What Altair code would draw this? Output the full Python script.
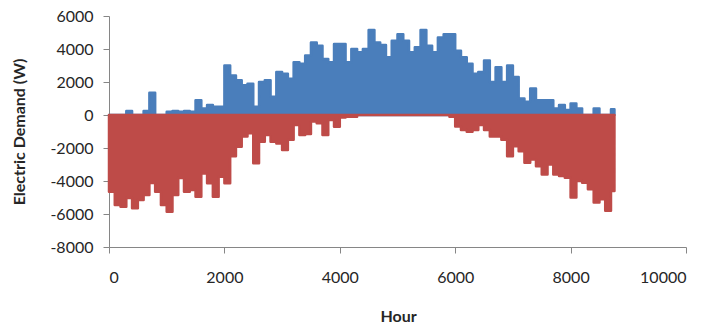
import altair as alt
import pandas as pd

# Hour of the year (sampled every 100 h, last point = 8760)
hours = list(range(0, 8800, 100)) + [8760]

# Upper envelope of the positive (blue) series, W
cooling = [
    0, 0, 0, 250, 0, 0, 250, 1350, 0, 0,
    200, 250, 200, 250, 200, 900, 400, 600, 500, 500,
    3000, 2400, 2100, 1800, 1900, 500, 2000, 2100, 1100, 2600,
    2500, 2200, 3200, 3100, 3600, 4400, 4200, 3400, 3200, 4300,
    4300, 3200, 4000, 3800, 4000, 5150, 4400, 4250, 3500, 4500,
    4900, 4500, 3800, 4100, 5150, 4200, 3800, 4700, 4900, 4900,
    3900, 3500, 3100, 2500, 2600, 3300, 2000, 2900, 2000, 3000,
    2300, 1000, 800, 1600, 900, 900, 900, 400, 600, 300,
    700, 400, 0, 0, 400, 0, 0, 350, 300,
]

# Lower envelope of the negative (red) series, W
heating = [
    -4650, -5450, -5560, -5030, -5650, -5150, -4850, -4120, -4650, -5450,
    -5860, -4850, -3820, -4650, -4550, -4950, -3540, -4140, -4950, -3740,
    -4140, -2500, -1920, -1310, -1110, -2930, -1620, -1210, -1620, -1720,
    -2120, -1500, -600, -1210, -1150, -400, -500, -1210, -300, -710,
    -150, -100, -100, 0, 0, 0, 0, 0, 0, 0,
    0, 0, 0, 0, 0, 0, 0, 0, 0, -100,
    -700, -910, -1010, -910, -610, -910, -1300, -1300, -1500, -2500,
    -1900, -2200, -2900, -2700, -3100, -3600, -3000, -3600, -3700, -3800,
    -5000, -4000, -4100, -4500, -5300, -5100, -5800, -4600, -4500,
]

x_ticks = [0, 2000, 4000, 6000, 8000, 10000]
y_ticks = [-8000, -6000, -4000, -2000, 0, 2000, 4000, 6000]

df = pd.DataFrame({"Hour": hours, "Cooling": cooling, "Heating": heating})

FONT = "Lato"
AX = "#868686"
TXT = "#262626"

x_enc = alt.X(
    "Hour:Q",
    scale=alt.Scale(domain=[0, 10000], nice=False),
    axis=alt.Axis(
        values=x_ticks, title="Hour", grid=False,
        labelFontSize=16, labelPadding=16, tickSize=6,
        labelExpr="datum.value + ''",
        titleX=289, titleY=69, titleBaseline="middle", titleAlign="center",
    ),
)

y_axis = alt.Axis(
    values=y_ticks, title="Electric Demand (W)", grid=False,
    labelFontSize=16, labelPadding=10, tickSize=6,
    labelExpr="datum.value + ''",
    titleX=-90, titleY=115.5, titleAngle=-90,
    titleBaseline="middle", titleAlign="center",
)
y_scale = alt.Scale(domain=[-8000, 6000], nice=False)

blue = alt.Chart(df).mark_area(
    interpolate="step-after", color="#4A7EBB", stroke="#4A7EBB",
    strokeWidth=2.5, strokeJoin="round", opacity=1,
).encode(
    x=x_enc,
    y=alt.Y("Cooling:Q", scale=y_scale, axis=y_axis, stack=None),
)

red = alt.Chart(df).mark_area(
    interpolate="step-after", color="#BE4B48", stroke="#BE4B48",
    strokeWidth=2.5, strokeJoin="round", opacity=1,
).encode(
    x=x_enc,
    y=alt.Y("Heating:Q", scale=y_scale, axis=y_axis, stack=None),
)

chart = alt.layer(blue, red).properties(
    width=577, height=231,
    autosize=alt.AutoSizeParams(type="none"),
    padding={"left": 109, "top": 16, "right": 23, "bottom": 80},
    background="white",
).configure_view(
    stroke=None
).configure_axis(
    domainColor=AX, tickColor=AX, domainWidth=1, tickWidth=1,
    labelFont=FONT, labelColor=TXT,
    titleFont=FONT, titleFontSize=16, titleFontWeight="bold", titleColor=TXT,
)

chart.save("out.html", embed_options={"renderer": "svg", "actions": False})
